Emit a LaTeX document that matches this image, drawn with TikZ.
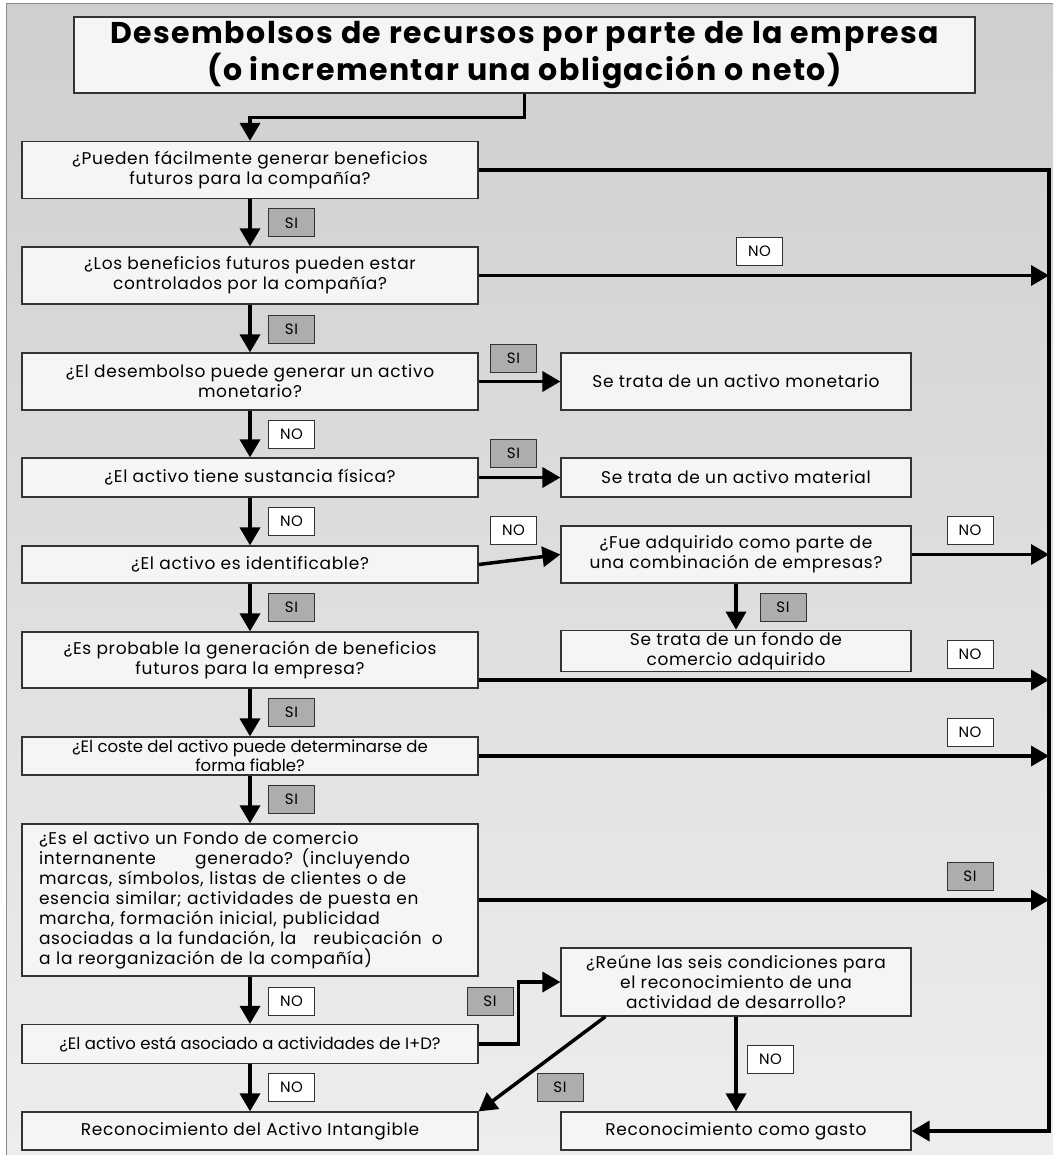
\documentclass[tikz,border=0pt]{standalone}
\usepackage{fontspec}
\setmainfont{Poppins}
\newfontfamily\boxfont[LetterSpace=4]{Poppins}
\newfontfamily\titlefont[LetterSpace=5]{Poppins}
\usetikzlibrary{arrows.meta}
\usetikzlibrary{positioning}

\begin{document}
\begin{tikzpicture}[x=1pt, y=-1pt,
  box/.style={draw=black!80, line width=1.2pt, fill=black!4, minimum width=456pt,
    align=center, inner sep=2pt, font=\boxfont\fontsize{17}{20}\selectfont},
  rbox/.style={box, minimum width=350pt},
  si/.style={draw=black!80, line width=1pt, fill=black!32, minimum width=46pt,
    minimum height=28pt, inner sep=0pt, font=\boxfont\fontsize{15}{17}\selectfont},
  no/.style={si, fill=white},
  link/.style={line width=3.5pt},
  flow/.style={link, -{Triangle[length=18pt,width=20pt]}}]
  \useasboundingbox (0,0) rectangle (1053,1155);
  \fill[white] (0,0) rectangle (1053,1155);
  \shade[top color=black!19, bottom color=black!7] (6,4) rectangle (1053,1155);
  \draw[black!45, line width=1pt] (6,1155) -- (6,4) -- (1053,4);

  % title
  \node[box, minimum width=901pt, minimum height=76pt, inner sep=4pt,
    font=\titlefont\fontsize{30}{33}\selectfont\bfseries] (T) at (524.5,55)
    {Desembolsos de recursos por parte de la empresa\\(o incrementar una obligación o neto)};

  % left column
  \node[box, minimum height=57pt] (A) at (250,170) {¿Pueden fácilmente generar beneficios\\futuros para la compañía?};
  \node[box, minimum height=57pt] (B) at (250,275.5) {¿Los beneficios futuros pueden estar\\controlados por la compañía?};
  \node[box, minimum height=57pt] (C) at (250,381.5) {¿El desembolso puede generar un activo\\monetario?};
  \node[box, minimum height=39pt] (D) at (250,477.5) {¿El activo tiene sustancia física?};
  \node[box, minimum height=37pt] (E) at (250,564.5) {¿El activo es identificable?};
  \node[box, minimum height=56pt] (G) at (250,660) {¿Es probable la generación de beneficios\\futuros para la empresa?};
  \node[box, minimum height=38pt, font=\fontsize{16.5}{18.5}\selectfont] (I) at (250,756) {¿El coste del activo puede determinarse de\\forma fiable?};
  \node[box, minimum height=152pt, align=left, text width=422pt, inner sep=0pt] (J) at (250,900)
    {¿Es el activo un Fondo de comercio\\
     internanente\hspace{2.3em}generado? (incluyendo\\
     marcas, símbolos, listas de clientes o de\\
     esencia similar; actividades de puesta en\\
     marcha, formación inicial, publicidad\\
     asociadas a la fundación, la\hspace{1em}reubicación\hspace{0.6em}o\\
     a la reorganización de la compañía)};
  \node[box, minimum height=39pt, font=\fontsize{16.5}{18.5}\selectfont] (K) at (250,1044) {¿El activo está asociado a actividades de I+D?};
  \node[box, minimum height=38pt] (M) at (250,1131) {Reconocimiento del Activo Intangible};

  % right column
  \node[rbox, minimum height=57pt, right of=C, node distance=486pt] (Cm) {Se trata de un activo monetario};
  \node[rbox, minimum height=39pt, right of=D, node distance=486pt] (Dm) {Se trata de un activo material};
  \node[rbox, minimum height=57pt] (F) at (736,554.5) {¿Fue adquirido como parte de\\una combinación de empresas?};
  \node[rbox, minimum height=38pt] (H) at (736,651) {Se trata de un fondo de\\comercio adquirido};
  \node[rbox, minimum height=68pt] (L) at (736,982) {¿Reúne las seis condiciones para\\el reconocimiento de una\\actividad de desarrollo?};
  \node[rbox, minimum height=38pt] (N) at (736,1131) {Reconocimiento como gasto};

  \coordinate (R) at (1049,1131);

  % connectors
  \draw[flow] (T.south) -- ++(0,24) -| (A.north);
  \draw[flow] (A.east) -| (R) -- (N.east);
  \draw[flow] (A.south) -- (B.north);
  \draw[flow] (B.south) -- (C.north);
  \draw[flow] (C.south) -- (D.north);
  \draw[flow] (D.south) -- (E.north);
  \draw[flow] (E.south) -- (G.north);
  \draw[flow] (G.south) -- (I.north);
  \draw[flow] (I.south) -- (J.north);
  \draw[flow] (J.south) -- (K.north);
  \draw[flow] (K.south) -- (M.north);
  \draw[flow] (C.east) -- (Cm.west);
  \draw[flow] (D.east) -- (Dm.west);
  \draw[flow] (E.east) -- (F.west);
  \draw[flow] (F.south) -- (H.north);
  \draw[flow] (K.east) -- ++(40,0) |- (L.west);
  \draw[flow] ([xshift=45pt]L.south west) -- (M.north east);
  \draw[flow] (L.south) -- (N.north);
  \draw[flow] (B.east) -- (B.east -| R);
  \draw[flow] (F.east) -- (F.east -| R);
  \draw[flow] ([yshift=-20pt]G.east) -- ([yshift=-20pt]G.east -| R);
  \draw[flow] (I.east) -- (I.east -| R);
  \draw[flow] (J.east) -- (J.east -| R);

  % answers
  \node[si] (s1) at (291.5,223) {SI};
  \node[no] (n1) at (759.5,251.5) {NO};
  \node[si] (s2) at (291.5,329) {SI};
  \node[si] (s3) at (513.5,358) {SI};
  \node[no] (n2) at (291.5,434) {NO};
  \node[si] (s4) at (513.5,453) {SI};
  \node[no] (n3) at (291.5,521) {NO};
  \node[no] (n4) at (513.5,530.5) {NO};
  \node[no] (n5) at (970,530.5) {NO};
  \node[si] (s5) at (291.5,607.5) {SI};
  \node[si] (s6) at (783,607.5) {SI};
  \node[no] (n6) at (970,654) {NO};
  \node[si] (s7) at (291.5,712.5) {SI};
  \node[no] (n7) at (970,732.5) {NO};
  \node[si] (s8) at (291.5,799) {SI};
  \node[si] (s9) at (970,876.5) {SI};
  \node[no] (n8) at (291.5,1001) {NO};
  \node[si] (s10) at (490,1001.5) {SI};
  \node[no] (n9) at (770.5,1059) {NO};
  \node[no] (n10) at (291.5,1087.5) {NO};
  \node[si] (s11) at (560,1087.5) {SI};
\end{tikzpicture}
\end{document}
